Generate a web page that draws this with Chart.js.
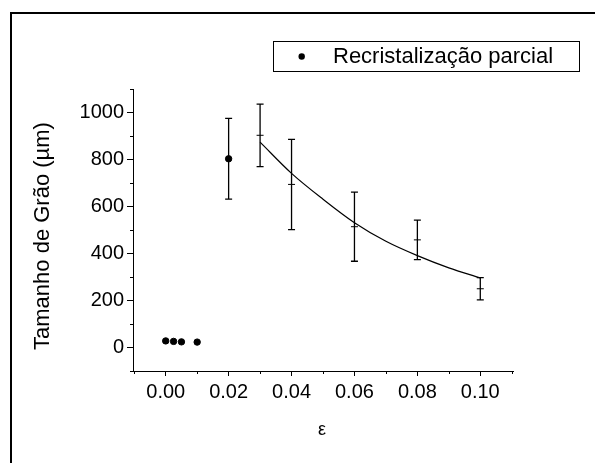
<!DOCTYPE html>
<html>
<head>
<meta charset="utf-8">
<script src="https://cdn.jsdelivr.net/npm/chart.js@4.4.1/dist/chart.umd.min.js"></script>
<style>
  html, body { margin: 0; padding: 0; background: #fff; }
</style>
</head>
<body>
<canvas id="grainChart" width="595" height="463"></canvas>
<script>
// Recristalização parcial (filled circles)
const partialX = [0, 0.0025, 0.005, 0.01, 0.02];
const partialY = [28, 26, 24, 23, 803];
const partialErr = [0, 0, 0, 0, 172];

// other measurements (mean mark + error bar)
const measX = [0.03, 0.04, 0.06, 0.08, 0.10];
const measY = [903, 694, 514, 458, 250];
const measErr = [133, 192, 147, 84, 47];

// fitted curve
const fitX = [0.03, 0.04, 0.05, 0.06, 0.07, 0.08, 0.09, 0.10];
const fitY = [874, 741, 631, 531, 452, 391, 339, 296];

// axes
const xTicks = [0, 0.02, 0.04, 0.06, 0.08, 0.10];
const xMinor = [-0.01, 0.01, 0.03, 0.05, 0.07, 0.09, 0.11];
const yTicks = [0, 200, 400, 600, 800, 1000];
const yMinor = [-100, 100, 300, 500, 700, 900, 1100];

const legendLabel = "Recristalização parcial";
const yTitle = "Tamanho de Grão (µm)";
const xTitle = "ε";

const FONT = "'Liberation Sans', Arial, sans-serif";

function pts(xs, ys) {
  return xs.map((x, i) => ({ x: x, y: ys[i] }));
}

// frame, error bars, minor ticks, legend and axis titles
const extras = {
  id: "extras",
  beforeDraw(chart) {
    const ctx = chart.ctx;
    ctx.save();
    ctx.fillStyle = "#000";
    ctx.fillRect(10, 12, 2, 463);
    ctx.fillRect(10, 12, 585, 2);
    ctx.restore();
  },
  afterDatasetsDraw(chart) {
    const ctx = chart.ctx;
    const xs = chart.scales.x, ys = chart.scales.y;
    ctx.save();
    ctx.strokeStyle = "#000";
    ctx.lineWidth = 1.3;
    const bar = (x, y, e) => {
      if (!e) return;
      const px = xs.getPixelForValue(x);
      const top = ys.getPixelForValue(y + e);
      const bot = ys.getPixelForValue(y - e);
      ctx.beginPath();
      ctx.moveTo(px, top); ctx.lineTo(px, bot);
      ctx.moveTo(px - 3.5, top); ctx.lineTo(px + 3.5, top);
      ctx.moveTo(px - 3.5, bot); ctx.lineTo(px + 3.5, bot);
      ctx.stroke();
    };
    partialX.forEach((x, i) => bar(x, partialY[i], partialErr[i]));
    measX.forEach((x, i) => bar(x, measY[i], measErr[i]));

    // minor ticks
    ctx.lineWidth = 1;
    ctx.beginPath();
    xMinor.forEach(v => {
      const px = Math.round(xs.getPixelForValue(v)) + 0.5;
      ctx.moveTo(px, xs.top); ctx.lineTo(px, xs.top + 3);
    });
    yMinor.forEach(v => {
      const py = Math.round(ys.getPixelForValue(v)) + 0.5;
      ctx.moveTo(ys.right, py); ctx.lineTo(ys.right - 3, py);
    });
    ctx.stroke();
    ctx.restore();
  },
  afterDraw(chart) {
    const ctx = chart.ctx;
    ctx.save();
    ctx.fillStyle = "#000";
    ctx.strokeStyle = "#000";

    // legend box
    ctx.lineWidth = 1;
    ctx.strokeRect(273.5, 41.5, 306, 30);
    ctx.beginPath();
    ctx.arc(301.7, 56.5, 3.2, 0, Math.PI * 2);
    ctx.fill();
    ctx.font = "22px " + FONT;
    ctx.textAlign = "left";
    ctx.textBaseline = "middle";
    ctx.fillText(legendLabel, 333, 57);

    // y title
    ctx.save();
    ctx.translate(49, 236);
    ctx.rotate(-Math.PI / 2);
    ctx.textAlign = "center";
    ctx.textBaseline = "alphabetic";
    ctx.fillText(yTitle, 0, 0);
    ctx.restore();

    // x title
    ctx.font = "18px " + FONT;
    ctx.textAlign = "center";
    ctx.textBaseline = "alphabetic";
    ctx.fillText(xTitle, 322, 435);
    ctx.restore();
  }
};

function loadChart() {
  const ctx = document.getElementById("grainChart").getContext("2d");
  new Chart(ctx, {
    type: "scatter",
    data: {
      datasets: [
        {
          label: legendLabel,
          data: pts(partialX, partialY),
          backgroundColor: "#000",
          borderColor: "#000",
          pointRadius: 3.2,
          pointHoverRadius: 3.2
        },
        {
          label: "medidas",
          data: pts(measX, measY),
          pointStyle: "line",
          borderColor: "#000",
          borderWidth: 1,
          pointRadius: 3.5
        },
        {
          label: "ajuste",
          type: "line",
          data: pts(fitX, fitY),
          borderColor: "#000",
          borderWidth: 1.2,
          pointRadius: 0,
          fill: false,
          cubicInterpolationMode: "monotone"
        }
      ]
    },
    options: {
      responsive: false,
      animation: false,
      events: [],
      layout: { padding: { top: 89, right: 82, left: 0, bottom: 0 } },
      plugins: {
        legend: { display: false },
        tooltip: { enabled: false }
      },
      scales: {
        x: {
          type: "linear",
          min: -0.0104,
          max: 0.1104,
          afterFit(s) { s.height = 92; },
          afterBuildTicks(s) { s.ticks = xTicks.map(v => ({ value: v })); },
          border: { color: "#000", width: 1 },
          grid: { drawOnChartArea: false, drawTicks: true, tickLength: 5, color: "#000" },
          ticks: {
            color: "#000",
            padding: 4,
            maxRotation: 0,
            font: { family: FONT, size: 20 },
            callback: v => v.toFixed(2)
          }
        },
        y: {
          type: "linear",
          min: -100,
          max: 1100,
          afterFit(s) { s.width = 133; },
          afterBuildTicks(s) { s.ticks = yTicks.map(v => ({ value: v })); },
          border: { color: "#000", width: 1 },
          grid: { drawOnChartArea: false, drawTicks: true, tickLength: 6, color: "#000" },
          ticks: {
            color: "#000",
            padding: 3,
            font: { family: FONT, size: 20 },
            callback: v => String(v)
          }
        }
      }
    },
    plugins: [extras]
  });
}

window.onload = () => {
  loadChart();
};
</script>
</body>
</html>
